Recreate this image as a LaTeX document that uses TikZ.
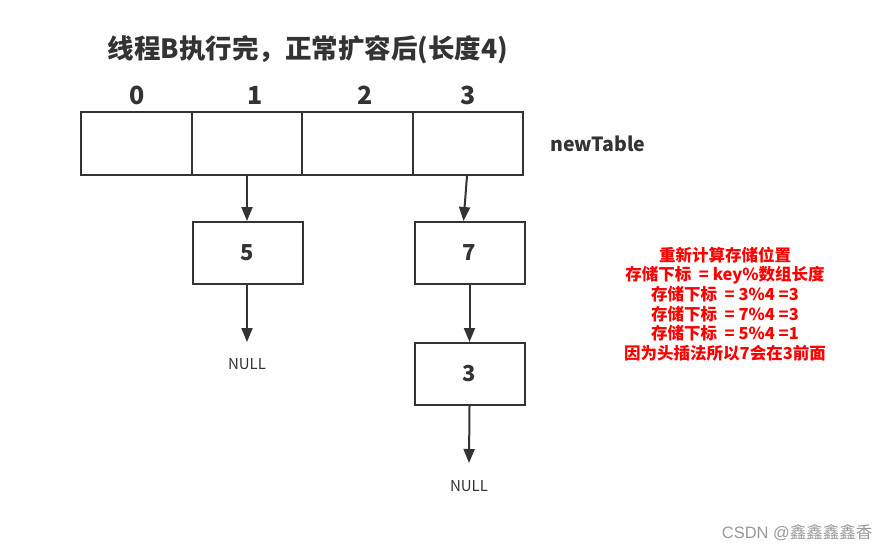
\documentclass[tikz,border=0pt]{standalone}
\usepackage{fontspec}
\setmainfont{Noto Sans CJK SC}
\newfontfamily\wmfont{Liberation Sans}
\usetikzlibrary{arrows.meta}
\definecolor{ink}{HTML}{333333}
\definecolor{redt}{HTML}{FF0000}
\tikzset{
  cell/.style={draw=ink, line width=2pt, minimum width=110pt, minimum height=62pt, inner sep=0pt, font=\bfseries\fontsize{22}{26}\selectfont, text=ink},
  idx/.style={font=\bfseries\fontsize{25}{28}\selectfont, text=ink},
  link/.style={draw=ink, line width=2pt, -{Triangle[length=14pt,width=11pt]}},
  nulltxt/.style={font=\fontsize{15}{17}\selectfont, text=ink}
}
\begin{document}
\begin{tikzpicture}[x=1pt,y=-1pt]
\useasboundingbox (0,0) rectangle (891,552);
\node[font=\bfseries\fontsize{26.5}{30}\selectfont, text=ink] (title) at (308,50) {线程B执行完，正常扩容后(长度4)};
\node[cell, minimum width=111pt, minimum height=63pt] (c0) at (136.5,143.5) {};
\node[cell, minimum width=110pt, minimum height=63pt] (c1) at (247,143.5) {};
\node[cell, minimum width=111pt, minimum height=63pt] (c2) at (357.5,143.5) {};
\node[cell, minimum width=110pt, minimum height=63pt] (c3) at (468,143.5) {};
\node[idx] (i0) at (137,95) {0};
\node[idx] (i1) at (255,95) {1};
\node[idx] (i2) at (365,95) {2};
\node[idx] (i3) at (468,95) {3};
\node[font=\bfseries\fontsize{19.5}{22}\selectfont, text=ink, anchor=west] (nt) at (547,144) {newTable};
\node[cell] (n5) at (247.5,253) {5};
\node[cell] (n7) at (469.5,253) {7};
\node[cell] (n3) at (469.5,374) {3};
\node[nulltxt] (null1) at (247,364) {NULL};
\node[nulltxt] (null2) at (469,486) {NULL};
\coordinate (e1) at (247,342);
\coordinate (e2) at (469,463);
\draw[link] (c1.south) -- (n5.north -| c1.south);
\draw[link] ([xshift=-1pt]c3.south) -- ([xshift=-6pt]n7.north);
\draw[link] (n7.south) -- (n3.north);
\draw[link] (n5.south -| e1) -- (e1);
\draw[link] (n3.south) -- (e2);
\node[text=redt, font=\bfseries\fontsize{16.5}{19.6}\selectfont, align=center] (note) at (725,304) {重新计算存储位置\\存储下标\ \ = key\%数组长度\\存储下标\ \ = 3\%4 =3\\存储下标\ \ = 7\%4 =3\\存储下标\ \ = 5\%4 =1\\因为头插法所以7会在3前面};
\node[text=black!40, font=\fontsize{16.5}{18}\selectfont, anchor=east] (wm) at (876,533) {{\wmfont CSDN @}鑫鑫鑫鑫香};
\end{tikzpicture}
\end{document}
